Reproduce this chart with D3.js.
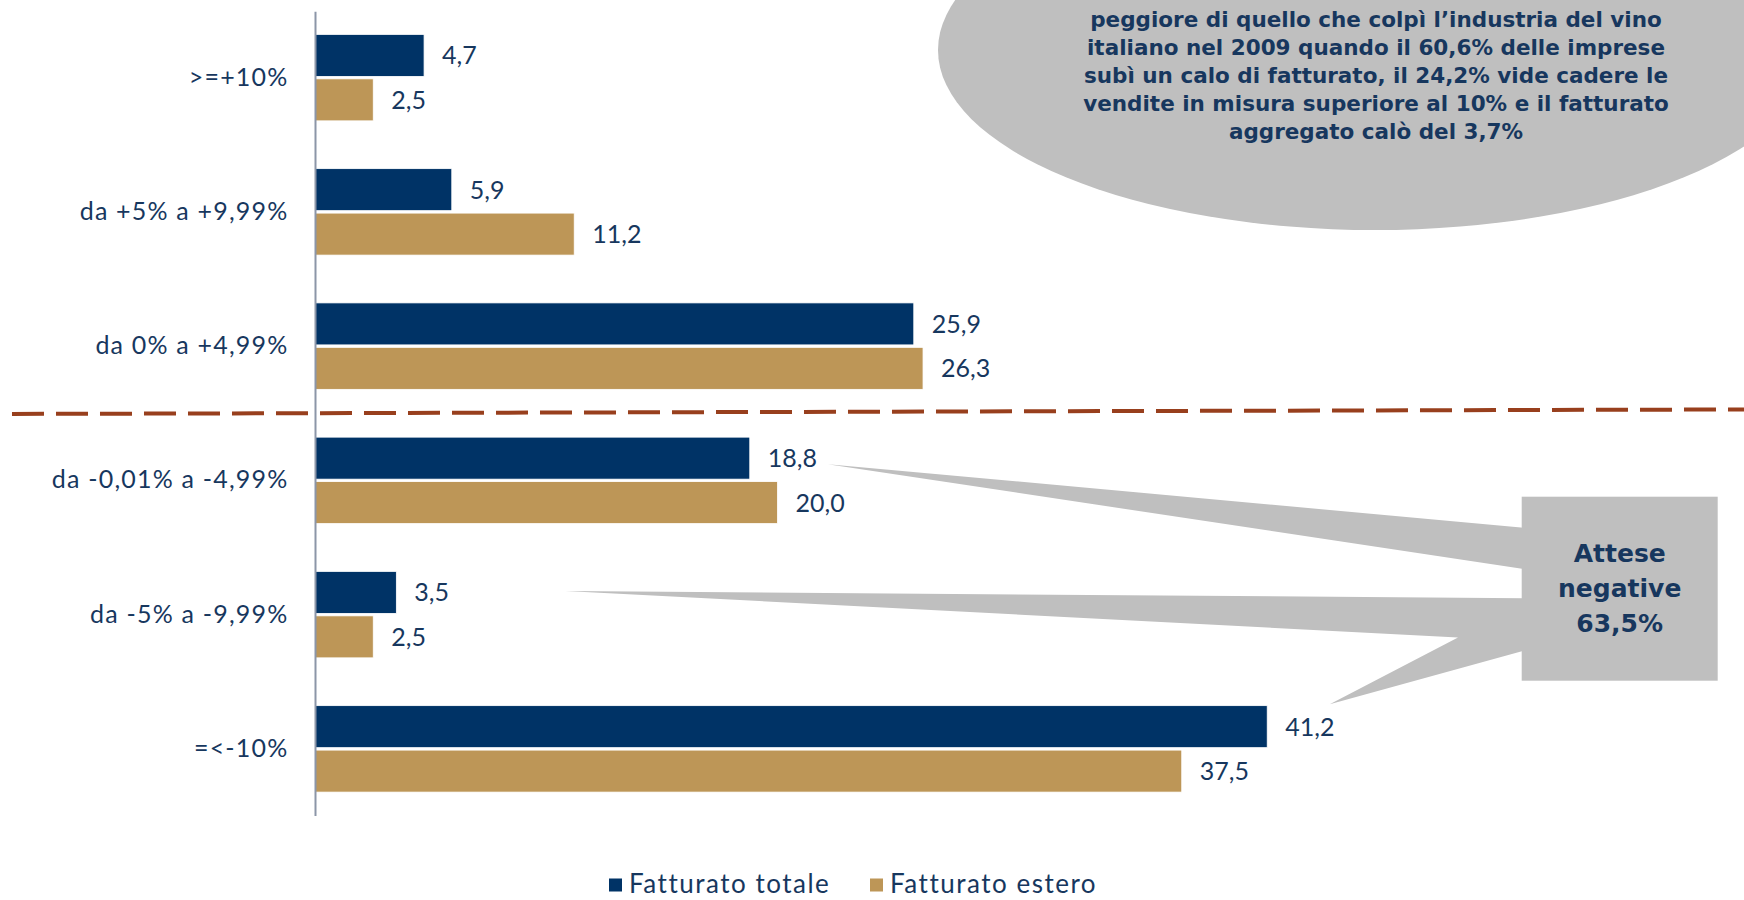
<!DOCTYPE html>
<html>
<head>
<meta charset="utf-8">
<script src="https://cdn.jsdelivr.net/npm/d3@7/dist/d3.min.js"></script>
<style>
  html, body { margin: 0; padding: 0; background: #ffffff; }
  svg { display: block; font-family: "Lato", "Noto Sans", sans-serif; }
</style>
</head>
<body>
<svg id="chart" width="1744" height="900"></svg>
<script>
// Fasce di variazione attesa del fatturato
const categories = [">=+10%", "da +5% a +9,99%", "da 0% a +4,99%", "da -0,01% a -4,99%", "da -5% a -9,99%", "=<-10%"];
// Quote di imprese (%)
const fatturatoTotale = [4.7, 5.9, 25.9, 18.8, 3.5, 41.2];
const fatturatoEstero = [2.5, 11.2, 26.3, 20.0, 2.5, 37.5];
const seriesNames = ["Fatturato totale", "Fatturato estero"];
const seriesValues = [fatturatoTotale, fatturatoEstero];

// Testi dei riquadri
const noteLines = [
  "peggiore di quello che colpì l\u2019industria del vino",
  "italiano nel 2009 quando il 60,6% delle imprese",
  "subì un calo di fatturato, il 24,2% vide cadere le",
  "vendite in misura superiore al 10% e il fatturato",
  "aggregato calò del 3,7%"
];
const boxLines = ["Attese", "negative", "63,5%"];

const NAVY = "#003366";
const TAN = "#bd9657";
const TEXT = "#17375e";
const GREY = "#bfbfbf";
const colors = [NAVY, TAN];
const BASE_FONT = "Lato, 'Noto Sans', sans-serif";
const BOLD_FONT = "'DejaVu Sans', 'Noto Sans', sans-serif";

const svg = d3.select("#chart");
const locale = d3.formatLocale({ decimal: ",", thousands: ".", grouping: [3], currency: ["€", ""] });
const fmt = locale.format(".1f");

// Scale
const x = d3.scaleLinear().domain([0, 45]).range([315.5, 315.5 + 45 * 23.1]);
const y = d3.scaleBand().domain(categories).range([10.5, 816]).paddingInner(0.356).paddingOuter(0.178);
const ySub = d3.scaleBand().domain(seriesNames).range([0, y.bandwidth()]).paddingInner(0.055);

const rows = categories.map((c, i) => ({ cat: c, values: seriesNames.map((s, j) => ({ series: s, idx: j, value: seriesValues[j][i] })) }));

// Ellisse con la nota
const noteG = svg.append("g");
noteG.append("ellipse")
  .attr("cx", 1375).attr("cy", 50).attr("rx", 437).attr("ry", 180)
  .attr("fill", GREY);
noteG.selectAll("text").data(noteLines).join("text")
  .attr("x", 1376)
  .attr("y", (d, i) => 19 + i * 28)
  .attr("dy", "0.36em")
  .attr("text-anchor", "middle")
  .style("font-family", BOLD_FONT)
  .style("font-size", "21.5px")
  .style("font-weight", 700)
  .attr("fill", TEXT)
  .text(d => d);

// Frecce del riquadro "Attese negative"
const boxX = 1521.7, boxY = 496.7, boxW = 196, boxH = 184;
const navyCenter = cat => y(cat) + ySub(seriesNames[0]) + ySub.bandwidth() / 2;
const tip1 = [x(18.8) + 78, navyCenter(categories[3]) + 6];
const tip2 = [x(3.5) + 169, navyCenter(categories[4]) - 1.5];
const tip3 = [x(41.2) + 62.5, y(categories[5]) - 1.5];

const pointer = svg.append("g").attr("fill", GREY);
pointer.append("path").attr("d", d3.line()([
  tip1, [boxX + 2, 527.7], [boxX + 2, 569]
]) + "Z");
pointer.append("path").attr("d", d3.line()([
  tip2, [boxX + 2, 598.3], [boxX + 2, 650.7], tip3, [1458, 637.5]
]) + "Z");

svg.append("rect")
  .attr("x", boxX).attr("y", boxY).attr("width", boxW).attr("height", boxH)
  .attr("fill", GREY);
svg.append("g").selectAll("text").data(boxLines).join("text")
  .attr("x", boxX + boxW / 2)
  .attr("y", (d, i) => 553 + i * 35)
  .attr("dy", "0.36em")
  .attr("text-anchor", "middle")
  .style("font-family", BOLD_FONT)
  .style("font-size", "25px")
  .style("font-weight", 700)
  .attr("fill", TEXT)
  .text(d => d);

// Barre
const groups = svg.append("g").selectAll("g").data(rows).join("g")
  .attr("transform", d => `translate(0,${y(d.cat)})`);

groups.selectAll("rect").data(d => d.values).join("rect")
  .attr("x", x(0))
  .attr("y", d => ySub(d.series))
  .attr("width", d => x(d.value) - x(0))
  .attr("height", ySub.bandwidth())
  .attr("fill", d => colors[d.idx])
  .attr("stroke", "#ffffff")
  .attr("stroke-width", 0.8);

groups.selectAll("text.val").data(d => d.values).join("text")
  .attr("class", "val")
  .attr("x", d => x(d.value) + 18)
  .attr("y", d => ySub(d.series) + ySub.bandwidth() / 2)
  .attr("dy", "0.36em")
  .style("font-family", BASE_FONT)
  .style("font-size", "25px")
  .attr("fill", TEXT)
  .text(d => fmt(d.value));

// Asse delle categorie
const axisG = svg.append("g").attr("transform", `translate(${x(0)},0)`)
  .call(d3.axisLeft(y).tickSize(0).tickPadding(27));
axisG.attr("font-family", null).attr("font-size", null);
axisG.select(".domain").attr("d", "M0,11.7V816").attr("stroke", "#8c96a8").attr("stroke-width", 2);
axisG.selectAll(".tick text")
  .style("font-family", BASE_FONT)
  .style("font-size", "25px")
  .style("letter-spacing", "1.2px")
  .attr("fill", TEXT);

// Separatore tra attese positive e negative
const sepY = (y(categories[2]) + y.bandwidth() + y(categories[3])) / 2;
svg.append("line")
  .attr("x1", 12).attr("y1", sepY + 0.7)
  .attr("x2", 1744).attr("y2", sepY - 3.8)
  .attr("stroke", "#983f1d")
  .attr("stroke-width", 4)
  .attr("stroke-dasharray", "32 12");

// Legenda
const legend = svg.append("g").attr("transform", "translate(0,884)");
const legendX = [609, 870];
const li = legend.selectAll("g").data(seriesNames).join("g")
  .attr("transform", (d, i) => `translate(${legendX[i]},0)`);
li.append("rect").attr("x", 0).attr("y", -5.5).attr("width", 13).attr("height", 13)
  .attr("fill", (d, i) => colors[i]);
li.append("text").attr("x", 20).attr("y", 0).attr("dy", "0.36em")
  .style("font-family", BASE_FONT)
  .style("font-size", "26px")
  .style("letter-spacing", "1.5px")
  .attr("fill", TEXT).text(d => d);
</script>
</body>
</html>
